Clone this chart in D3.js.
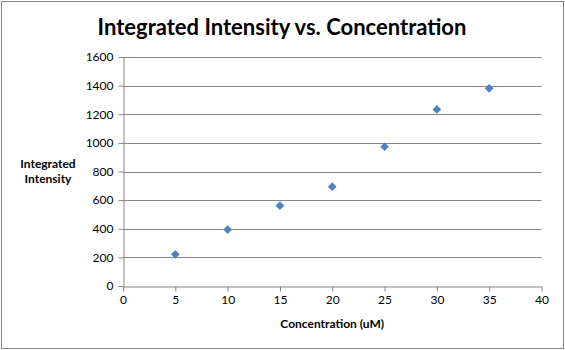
<!DOCTYPE html>
<html lang="en">
<head>
    <meta charset="UTF-8">
    <script src="https://d3js.org/d3.v7.min.js"></script>
    <title>Integrated Intensity vs. Concentration</title>
    <style>
        body { margin: 0; background: #fff; }
        svg { display: block; font-family: Lato, "Open Sans", sans-serif; }
    </style>
</head>
<body>
    <svg width="565" height="350"></svg>

    <script>
        const concentration = [5, 10, 15, 20, 25, 30, 35];
        const intensity = [221, 394, 561, 694, 973, 1234, 1381];
        const xTicks = [0, 5, 10, 15, 20, 25, 30, 35, 40];
        const yTicks = [0, 200, 400, 600, 800, 1000, 1200, 1400, 1600];

        const width = 565;
        const height = 350;
        const margin = { top: 57, right: 23, bottom: 64, left: 123 };
        const grey = '#868686';

        const svg = d3.select('svg');

        // chart frame
        svg.append('rect')
            .attr('x', 1.5).attr('y', 1.5)
            .attr('width', width - 3).attr('height', height - 3)
            .attr('fill', 'none')
            .attr('stroke', grey);

        const xScale = d3.scaleLinear()
            .domain([0, 40])
            .range([margin.left, width - margin.right - 0.5]);

        const yScale = d3.scaleLinear()
            .domain([0, 1600])
            .range([height - margin.bottom, margin.top]);

        // horizontal gridlines
        svg.append('g')
            .selectAll('line')
            .data(yTicks.slice(1))
            .enter().append('line')
            .attr('x1', xScale(0)).attr('x2', xScale(40))
            .attr('y1', d => Math.round(yScale(d)) + 0.5)
            .attr('y2', d => Math.round(yScale(d)) + 0.5)
            .attr('stroke', grey);

        const xAxis = d3.axisBottom(xScale)
            .tickValues(xTicks)
            .tickFormat(d3.format('d'))
            .tickSize(5)
            .tickSizeOuter(0)
            .tickPadding(4);

        const yAxis = d3.axisLeft(yScale)
            .tickValues(yTicks)
            .tickFormat(d3.format('d'))
            .tickSize(5)
            .tickSizeOuter(0)
            .tickPadding(5);

        const gx = svg.append('g')
            .attr('transform', `translate(0, ${Math.round(yScale(0)) + 0.5})`)
            .call(xAxis);

        const gy = svg.append('g')
            .attr('transform', `translate(${Math.round(xScale(0)) + 0.5}, 0)`)
            .call(yAxis);

        [gx, gy].forEach(g => {
            g.selectAll('path, line').attr('stroke', grey);
            g.selectAll('text')
                .attr('fill', '#000')
                .style('font-size', '12px')
                .style('font-family', 'Lato, "Open Sans", sans-serif');
        });

        // diamond markers
        const diamond = d3.symbol().type(d3.symbolDiamond2).size(48);
        svg.append('g')
            .selectAll('path')
            .data(concentration)
            .enter().append('path')
            .attr('d', diamond)
            .attr('transform', (d, i) => `translate(${xScale(d)}, ${yScale(intensity[i])})`)
            .attr('fill', '#4F81BD');

        // title
        svg.append('text')
            .attr('x', 282)
            .attr('y', 35)
            .attr('text-anchor', 'middle')
            .style('font-size', '22px')
            .style('font-weight', 'bold')
            .text('Integrated Intensity vs. Concentration');

        // axis titles
        svg.append('text')
            .attr('x', xScale(20))
            .attr('y', 328)
            .attr('text-anchor', 'middle')
            .style('font-size', '12px')
            .style('font-weight', 'bold')
            .text('Concentration (uM)');

        const yTitle = svg.append('text')
            .attr('x', 48)
            .attr('y', 168)
            .attr('text-anchor', 'middle')
            .style('font-size', '12px')
            .style('font-weight', 'bold');
        yTitle.append('tspan').attr('x', 48).text('Integrated');
        yTitle.append('tspan').attr('x', 48).attr('dy', 15).text('Intensity');
    </script>
</body>
</html>
